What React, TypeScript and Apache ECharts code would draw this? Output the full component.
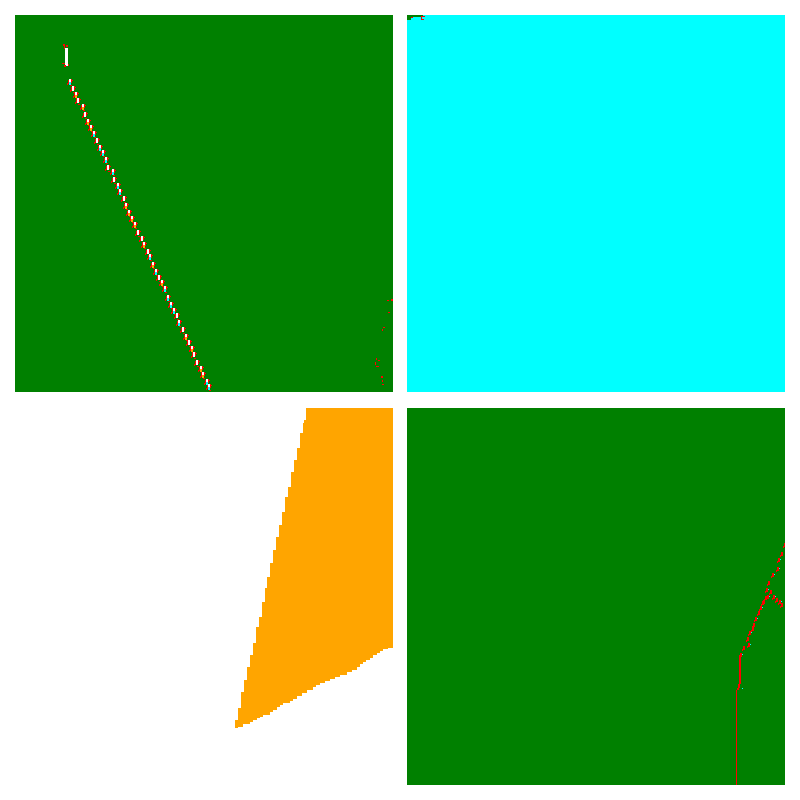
import React, { useRef, useEffect } from "react";
import * as echarts from "echarts";

// palette codes: 0 white, 1 cyan, 2 orange, 3 red, 4 green
const COLORS = ["#ffffff", "#00ffff", "#ffa500", "#ff0000", "#008000"];
const PANEL_BG = ["#008000", "#00ffff", "#ffffff", "#008000"];
const COLS = 378;
const ROWS = 377;

// top-left: clusters along the diagonal streak (col, row, accent code)
const tlClusterCols = [
  54, 57, 60, 62, 67, 69, 72, 75, 78, 81, 84, 87, 90, 92, 97, 98, 102, 104, 108, 110, 113, 116, 119, 122,
  126, 128, 132, 134, 137, 140, 143, 146, 149, 152, 155, 158, 161, 163, 167, 170, 173, 176, 178, 181, 185,
  187, 191, 193,
];
const tlClusterRows = [
  67, 74, 80, 86, 92, 100, 107, 113, 119, 126, 133, 138, 145, 153, 157, 165, 171, 177, 184, 191, 198, 204,
  210, 218, 224, 230, 237, 242, 250, 257, 263, 268, 274, 283, 290, 296, 301, 308, 315, 322, 328, 334, 340,
  348, 354, 360, 367, 372,
];
const tlClusterTints = [
  1, 0, 2, 0, 2, 0, 2, 2, 1, 0, 1, 1, 1, 0, 1, 0, 1, 1, 0, 2, 2, 2, 2, 0, 0, 2, 0, 1, 2, 1, 0, 2, 1, 1, 1, 1,
  0, 1, 0, 2, 0, 2, 0, 0, 2, 2, 1, 1,
];

// blocks: [col0, row0, col1, row1, code]
const tlBlocks = [
  [50, 33, 53, 51, 0],
  [48, 29, 50, 31, 3],
  [51, 30, 53, 32, 3],
  [49, 31, 50, 34, 3],
  [47, 48, 50, 49, 3],
  [49, 50, 51, 52, 3],
  [53, 49, 54, 51, 3],
  [372, 285, 374, 286, 3],
  [376, 284, 378, 286, 3],
  [373, 297, 375, 298, 3],
  [368, 312, 370, 313, 3],
  [367, 314, 368, 316, 3],
  [361, 343, 362, 345, 3],
  [363, 345, 365, 346, 3],
  [360, 347, 361, 350, 3],
  [361, 351, 364, 352, 3],
  [366, 361, 368, 363, 3],
  [367, 365, 368, 367, 3],
  [367, 369, 369, 370, 3],
];

const trBlocks = [
  [0, 0, 16, 2, 4],
  [0, 0, 4, 5, 4],
  [14, 1, 18, 2, 3],
  [14, 1, 15, 5, 3],
  [14, 4, 17, 5, 3],
  [4, 2, 6, 3, 3],
];

// bottom-left orange wedge: left edge steps and right edge steps (by row)
const orangeLeftFrom = [0, 12, 15, 25, 40, 52, 64, 79, 89, 104, 117, 129, 142, 155, 169, 180, 194, 209, 219, 235, 247, 259, 272, 284, 300, 312];
const orangeLeftCol = [291, 289, 288, 285, 282, 279, 276, 273, 270, 267, 264, 261, 258, 255, 252, 250, 247, 244, 241, 238, 235, 232, 229, 226, 223, 220];
const orangeRightFrom = [0, 238, 240, 241, 243, 245, 247, 250, 252, 254, 256, 259, 262, 264, 267, 269, 271, 273, 275, 277, 279, 282, 285, 288, 291, 293, 295, 297, 299, 302, 304, 307, 309, 310, 312, 314, 316, 319];
const orangeRightCol = [378, 378, 373, 368, 365, 362, 358, 355, 351, 348, 345, 342, 337, 332, 325, 320, 315, 310, 305, 301, 298, 292, 287, 282, 278, 275, 268, 265, 262, 258, 255, 248, 245, 242, 238, 235, 228, 223];
const orangeLastRow = 320;

// bottom-right: red streak
const brBlocks = [
  [329, 282, 330, 377, 3],
  [330, 280, 332, 282, 3],
  [331, 276, 333, 280, 3],
  [332, 247, 334, 276, 3],
  [335, 280, 336, 281, 1],
  [335, 246, 336, 247, 1],
];
const brTrailCols = [377, 374, 371, 370, 365, 361, 363, 359, 358, 356, 360, 366, 369, 374, 372, 355, 353, 351, 348, 346, 345, 342, 340, 341, 336, 333];
const brTrailRows = [137, 146, 152, 161, 167, 175, 184, 182, 190, 194, 189, 189, 192, 197, 194, 195, 200, 205, 211, 217, 221, 225, 231, 237, 240, 247];
const brTrailTints = [3, 3, 1, 1, 1, 3, 3, 1, 3, 3, 1, 1, 3, 3, 1, 3, 1, 3, 1, 3, 3, 1, 3, 1, 3, 1];

const stepAt = (from: number[], vals: number[], r: number) => {
  let v = vals[0];
  for (let i = 0; i < from.length; i++) if (r >= from[i]) v = vals[i];
  return v;
};

const buildOrange = () => {
  const out: number[][] = [];
  let cur: number[] | null = null;
  for (let r = 0; r < orangeLastRow; r++) {
    const l = stepAt(orangeLeftFrom, orangeLeftCol, r);
    const rt = stepAt(orangeRightFrom, orangeRightCol, r);
    if (rt <= l) continue;
    if (cur && cur[0] === l && cur[2] === rt && cur[3] === r) {
      cur[3] = r + 1;
    } else {
      cur = [l, r, rt, r + 1, 2];
      out.push(cur);
    }
  }
  return out;
};

const rectFrom = (api: any, c0: number, r0: number, c1: number, r1: number, fill: string) => {
  const p0 = api.coord([c0, r0]);
  const p1 = api.coord([c1, r1]);
  return {
    type: "rect",
    shape: { x: p0[0], y: p0[1], width: p1[0] - p0[0], height: p1[1] - p0[1] },
    style: { fill },
  };
};

const blockSeries = (idx: number, data: number[][]) => ({
  type: "custom",
  xAxisIndex: idx,
  yAxisIndex: idx,
  clip: true,
  encode: { x: [0, 2], y: [1, 3] },
  data,
  renderItem: (_p: any, api: any) =>
    rectFrom(api, api.value(0), api.value(1), api.value(2), api.value(3), COLORS[api.value(4)]),
});

const App = () => {
  const chartRef = useRef<HTMLDivElement>(null);

  useEffect(() => {
    const chart = echarts.init(chartRef.current, null, { renderer: "svg" });
    const boxes = [
      { left: 15, top: 15 },
      { left: 407, top: 15 },
      { left: 15, top: 408 },
      { left: 407, top: 408 },
    ];
    const options = {
      animation: false,
      backgroundColor: "#ffffff",
      grid: boxes.map((b, i) => ({
        left: b.left,
        top: b.top,
        width: COLS,
        height: ROWS,
        show: true,
        backgroundColor: PANEL_BG[i],
        borderWidth: 0,
      })),
      xAxis: boxes.map((_b, i) => ({ type: "value", gridIndex: i, min: 0, max: COLS, show: false })),
      yAxis: boxes.map((_b, i) => ({ type: "value", gridIndex: i, min: 0, max: ROWS, inverse: true, show: false })),
      series: [
        blockSeries(0, tlBlocks),
        {
          type: "custom",
          xAxisIndex: 0,
          yAxisIndex: 0,
          clip: true,
          encode: { x: 0, y: 1 },
          data: tlClusterCols.map((c, i) => [c, tlClusterRows[i], tlClusterTints[i]]),
          renderItem: (_p: any, api: any) => {
            const c = api.value(0);
            const r = api.value(1);
            const t = api.value(2);
            const kids: any[] = [
              rectFrom(api, c - 1, r - 2, c, r + 2, COLORS[3]),
              rectFrom(api, c - 2, r + 1, c - 1, r + 3, COLORS[3]),
              rectFrom(api, c + 2, r - 3, c + 3, r + 1, COLORS[3]),
              rectFrom(api, c + 3, r - 2, c + 4, r - 1, COLORS[3]),
              rectFrom(api, c + 1, r + 3, c + 3, r + 4, COLORS[3]),
              rectFrom(api, c, r - 3, c + 2, r + 2, COLORS[0]),
            ];
            if (t !== 0) kids.push(rectFrom(api, c, r, c + 2, r + 3, COLORS[t]));
            return { type: "group", children: kids };
          },
        },
        blockSeries(1, trBlocks),
        blockSeries(2, buildOrange()),
        blockSeries(3, brBlocks),
        {
          type: "custom",
          xAxisIndex: 3,
          yAxisIndex: 3,
          clip: true,
          encode: { x: 0, y: 1 },
          data: brTrailCols.map((c, i) => [c, brTrailRows[i], brTrailTints[i]]),
          renderItem: (_p: any, api: any) => {
            const c = api.value(0);
            const r = api.value(1);
            const t = api.value(2);
            const kids: any[] = [
              rectFrom(api, c, r - 2, c + 2, r + 2, COLORS[3]),
              rectFrom(api, c - 1, r + 1, c, r + 3, COLORS[3]),
            ];
            if (t === 1) kids.push(rectFrom(api, c + 2, r - 1, c + 3, r, COLORS[1]));
            return { type: "group", children: kids };
          },
        },
      ],
    };
    chart.setOption(options);
    return () => {
      chart.dispose();
    };
  }, []);

  return (
    <div
      ref={chartRef}
      style={{ position: "fixed", left: 0, top: 0, width: 800, height: 800, background: "#fff" }}
    />
  );
};

export default App;
